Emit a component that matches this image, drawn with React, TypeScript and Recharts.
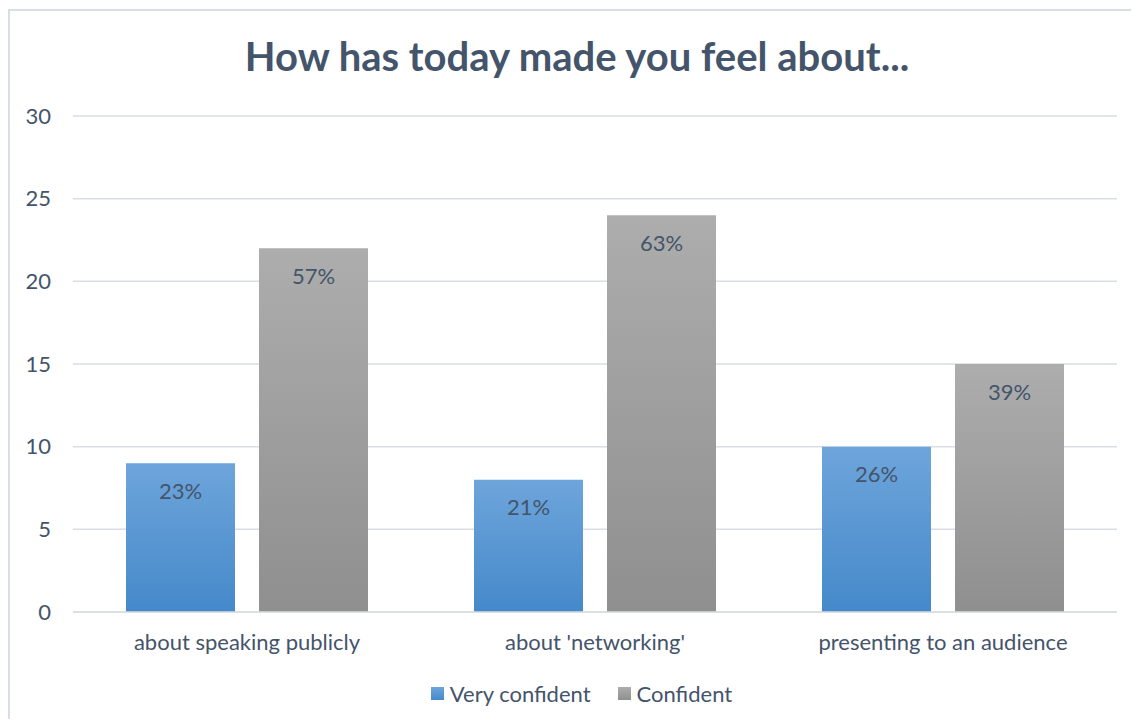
import { BarChart, Bar, XAxis, YAxis, CartesianGrid, Legend, LabelList } from "recharts";

const categories = ["about speaking publicly", "about 'networking'", "presenting to an audience"];
const veryConfident = [9, 8, 10];
const confident = [22, 24, 15];
const veryConfidentPct = ["23%", "21%", "26%"];
const confidentPct = ["57%", "63%", "39%"];
const yTicks = [0, 5, 10, 15, 20, 25, 30];
const seriesNames = ["Very confident", "Confident"];

const data = categories.map((name, i) => ({
  name,
  veryConfident: veryConfident[i],
  confident: confident[i],
  vcLabel: veryConfidentPct[i],
  cLabel: confidentPct[i],
}));

const FONT = "Lato, 'Open Sans', sans-serif";
const TEXT = "#44546A";
const GRID = "#D9DEE6";

const LegendContent = () => (
  <div style={{ display: "flex", justifyContent: "center", gap: 27, fontFamily: FONT, fontSize: 22, color: TEXT }}>
    {seriesNames.map((k, i) => (
      <span key={k} style={{ display: "flex", alignItems: "center", gap: 6 }}>
        <span
          style={{
            width: 13,
            height: 13,
            display: "inline-block",
            background: i === 1 ? "linear-gradient(#ADADAD, #8F8F8F)" : "linear-gradient(#6EA5DB, #4589CA)",
          }}
        />
        {k}
      </span>
    ))}
  </div>
);

export default function App() {
  return (
    <div style={{ position: "relative", width: 1139, height: 727, margin: -8, overflow: "hidden", background: "#fff" }}>
      <div
        style={{
          position: "absolute",
          left: 8,
          top: 9,
          width: 1160,
          height: 740,
          borderLeft: `2px solid ${GRID}`,
          borderTop: `2px solid ${GRID}`,
        }}
      />
      <div
        style={{
          position: "absolute",
          left: 0,
          width: 1154,
          top: 32,
          textAlign: "center",
          fontFamily: FONT,
          fontWeight: 700,
          fontSize: 40,
          color: TEXT,
        }}
      >
        How has today made you feel about...
      </div>
      <BarChart
        width={1139}
        height={727}
        data={data}
        margin={{ top: 116, right: 22, bottom: 85, left: 0 }}
        barCategoryGap={53}
        barGap={24}
        style={{ position: "absolute", left: 0, top: 0 }}
      >
        <defs>
          <linearGradient id="gradBlue" x1="0" y1="0" x2="0" y2="1">
            <stop offset="0%" stopColor="#6EA5DB" />
            <stop offset="100%" stopColor="#4589CA" />
          </linearGradient>
          <linearGradient id="gradGray" x1="0" y1="0" x2="0" y2="1">
            <stop offset="0%" stopColor="#ADADAD" />
            <stop offset="100%" stopColor="#8F8F8F" />
          </linearGradient>
        </defs>
        <CartesianGrid vertical={false} stroke={GRID} strokeWidth={1.5} />
        <XAxis
          dataKey="name"
          height={30}
          axisLine={{ stroke: GRID, strokeWidth: 1.5 }}
          tickLine={false}
          tickSize={0}
          tickMargin={22}
          tick={{ fill: TEXT, fontSize: 22, fontFamily: FONT }}
        />
        <YAxis
          width={73}
          domain={[0, 30]}
          ticks={yTicks}
          axisLine={false}
          tickLine={false}
          tickSize={0}
          tickMargin={22}
          tick={{ fill: TEXT, fontSize: 22, fontFamily: FONT }}
        />
        <Legend verticalAlign="middle" layout="horizontal" align="center" wrapperStyle={{ top: 680, left: 12, width: 1139 }} content={LegendContent} />
        <Bar dataKey="veryConfident" name={seriesNames[0]} fill="url(#gradBlue)" barSize={109} isAnimationActive={false}>
          <LabelList dataKey="vcLabel" position="insideTop" offset={20} fill={TEXT} fontSize={22} fontFamily={FONT} />
        </Bar>
        <Bar dataKey="confident" name={seriesNames[1]} fill="url(#gradGray)" barSize={109} isAnimationActive={false}>
          <LabelList dataKey="cLabel" position="insideTop" offset={20} fill={TEXT} fontSize={22} fontFamily={FONT} />
        </Bar>
      </BarChart>
    </div>
  );
}
